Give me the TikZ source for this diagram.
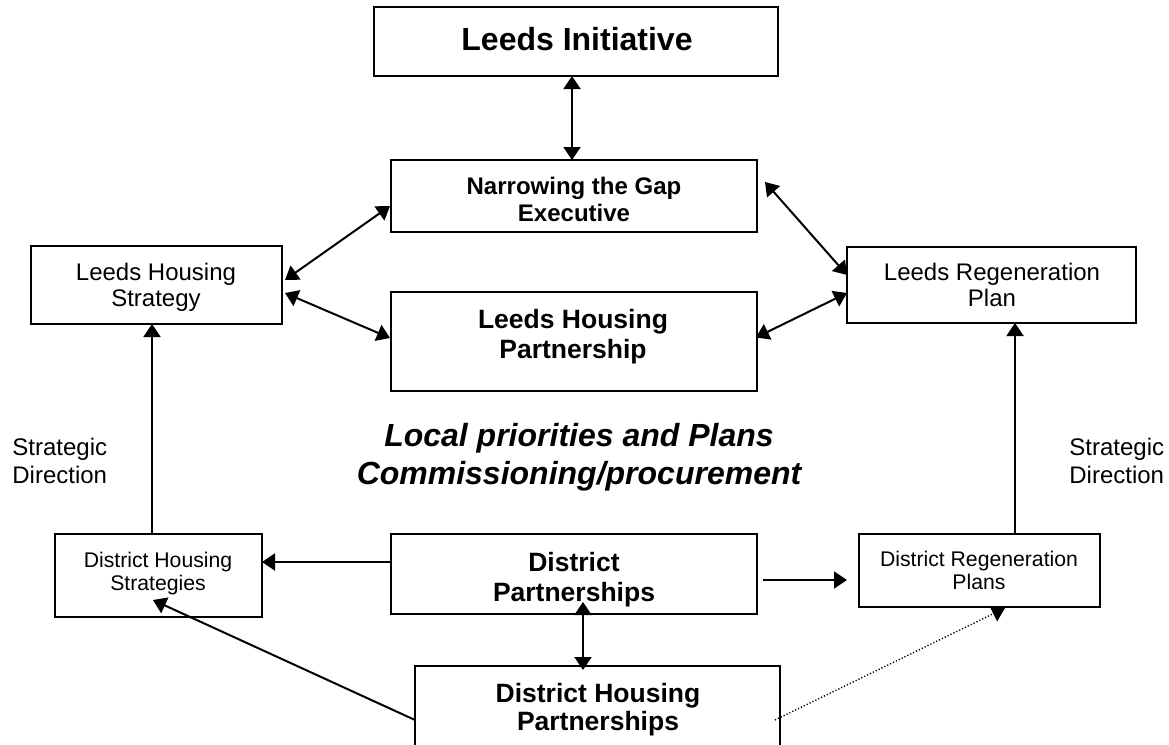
\documentclass[tikz,border=0pt]{standalone}
\usepackage{fontspec}
\setmainfont{Liberation Sans}
\usetikzlibrary{arrows.meta,calc}
\begin{document}
\begin{tikzpicture}[x=0.5pt,y=-0.5pt,
  >={Triangle[length=6.5pt,width=8.5pt]},
  box/.style={draw,line width=1.1pt,outer sep=0pt,inner sep=0pt},
  lbl/.style={anchor=north,inner sep=0pt,align=center},
  side/.style={anchor=north west,inner sep=0pt,align=left,
    font={\fontsize{12}{14}\selectfont}},
  conn/.style={line width=1pt},
  dots/.style={line width=0.7pt,dash pattern=on 0.6pt off 1pt},
  titlefont/.style={font={\fontsize{16}{19}\selectfont\bfseries}},
  midbold/.style={font={\fontsize{12}{13.5}\selectfont\bfseries}},
  bigbold/.style={font={\fontsize{13.25}{15}\selectfont\bfseries}},
  bigboldb/.style={font={\fontsize{13.25}{14}\selectfont\bfseries}},
  plain/.style={font={\fontsize{12}{13}\selectfont}},
  small/.style={font={\fontsize{10.6}{11.25}\selectfont}},
  theme/.style={font={\fontsize{16}{19}\selectfont\bfseries\itshape}}]

\clip (0,0) rectangle (1169,745);

% boxes
\node[box,minimum width=202pt,minimum height=34.5pt] (li)  at (576,41.5) {};
\node[box,minimum width=183pt,minimum height=36pt]   (nge) at (574,196) {};
\node[box,minimum width=125.5pt,minimum height=39pt] (lhs) at (156.5,285) {};
\node[box,minimum width=183pt,minimum height=49.5pt] (lhp) at (574,341.5) {};
\node[box,minimum width=144.5pt,minimum height=38pt] (lrp) at (991.5,285) {};
\node[box,minimum width=103.5pt,minimum height=41.5pt] (dhs) at (158.5,575.5) {};
\node[box,minimum width=183pt,minimum height=40pt]   (dp)  at (574,574) {};
\node[box,minimum width=120.5pt,minimum height=36.5pt] (drp) at (979.5,570.5) {};
\node[box,minimum width=182.5pt,minimum height=47pt] (dhp) at (597.5,713) {};

% box texts
\node[lbl,titlefont] (li-t)  at (577,27)  {Leeds Initiative};
\node[lbl,midbold]   (nge-t) at (574,177) {Narrowing the Gap\\Executive};
\node[lbl,bigbold]   (lhp-t) at (573,309) {Leeds Housing\\Partnership};
\node[lbl,plain]     (lhs-t) at (156,263) {Leeds Housing\\Strategy};
\node[lbl,plain]     (lrp-t) at (992,263) {Leeds Regeneration\\Plan};
\node[lbl,small]     (dhs-t) at (158,552) {District Housing\\Strategies};
\node[lbl,small]     (drp-t) at (979,551) {District Regeneration\\Plans};
\node[lbl,bigbold]   (dp-t)  at (574,552) {District\\Partnerships};
\node[lbl,bigboldb]  (dhp-t) at (598,683) {District Housing\\Partnerships};

% free texts
\node[lbl,theme] (theme) at (579,423) {Local priorities and Plans\\Commissioning/procurement};
\node[side] (sd-left)  at (12,438)   {Strategic\\Direction};
\node[side] (sd-right) at (1069,438) {Strategic\\Direction};

% connectors
\draw[conn,<->] ($(li.south)+(-4,0)$) -- ($(nge.north)+(-2,0)$);
\draw[conn,<->] ($(nge.west)+(-1,10)$) -- ($(lhs.east)+(3,-5)$);
\draw[conn,<->] ($(lhs.east)+(3,8)$) -- ($(lhp.west)+(-1,-3.5)$);
\draw[conn,<->] ($(nge.east)+(8,-14)$) -- ($(lrp.west)+(0,-10)$);
\draw[conn,<->] ($(lhp.east)+(-1,-4)$) -- ($(lrp.west)+(0,8)$);
\draw[conn,->] ($(dhs.north)+(-6.5,0)$) -- ($(lhs.south)+(-4.5,0)$);
\draw[conn,->] ($(drp.north)+(35.5,0)$) -- ($(lrp.south)+(23.5,0)$);
\draw[conn,->] ($(dp.west)+(0,-12)$) -- ($(dhs.east)+(0,-13.5)$);
\draw[conn,->] ($(dp.east)+(6,6)$) -- ($(drp.west)+(-12,9.5)$);
\draw[conn,<->] ($(dp.south)+(9,-12)$) -- ($(dhp.north)+(-14.5,4)$);
\draw[conn,->] ($(dhp.west)+(0,7)$) -- ($(dhs.south)+(-5.5,-17)$);
\draw[dots,->] ($(dhp.east)+(-5,7)$) -- ($(drp.south)+(25.5,1)$);

\end{tikzpicture}
\end{document}
